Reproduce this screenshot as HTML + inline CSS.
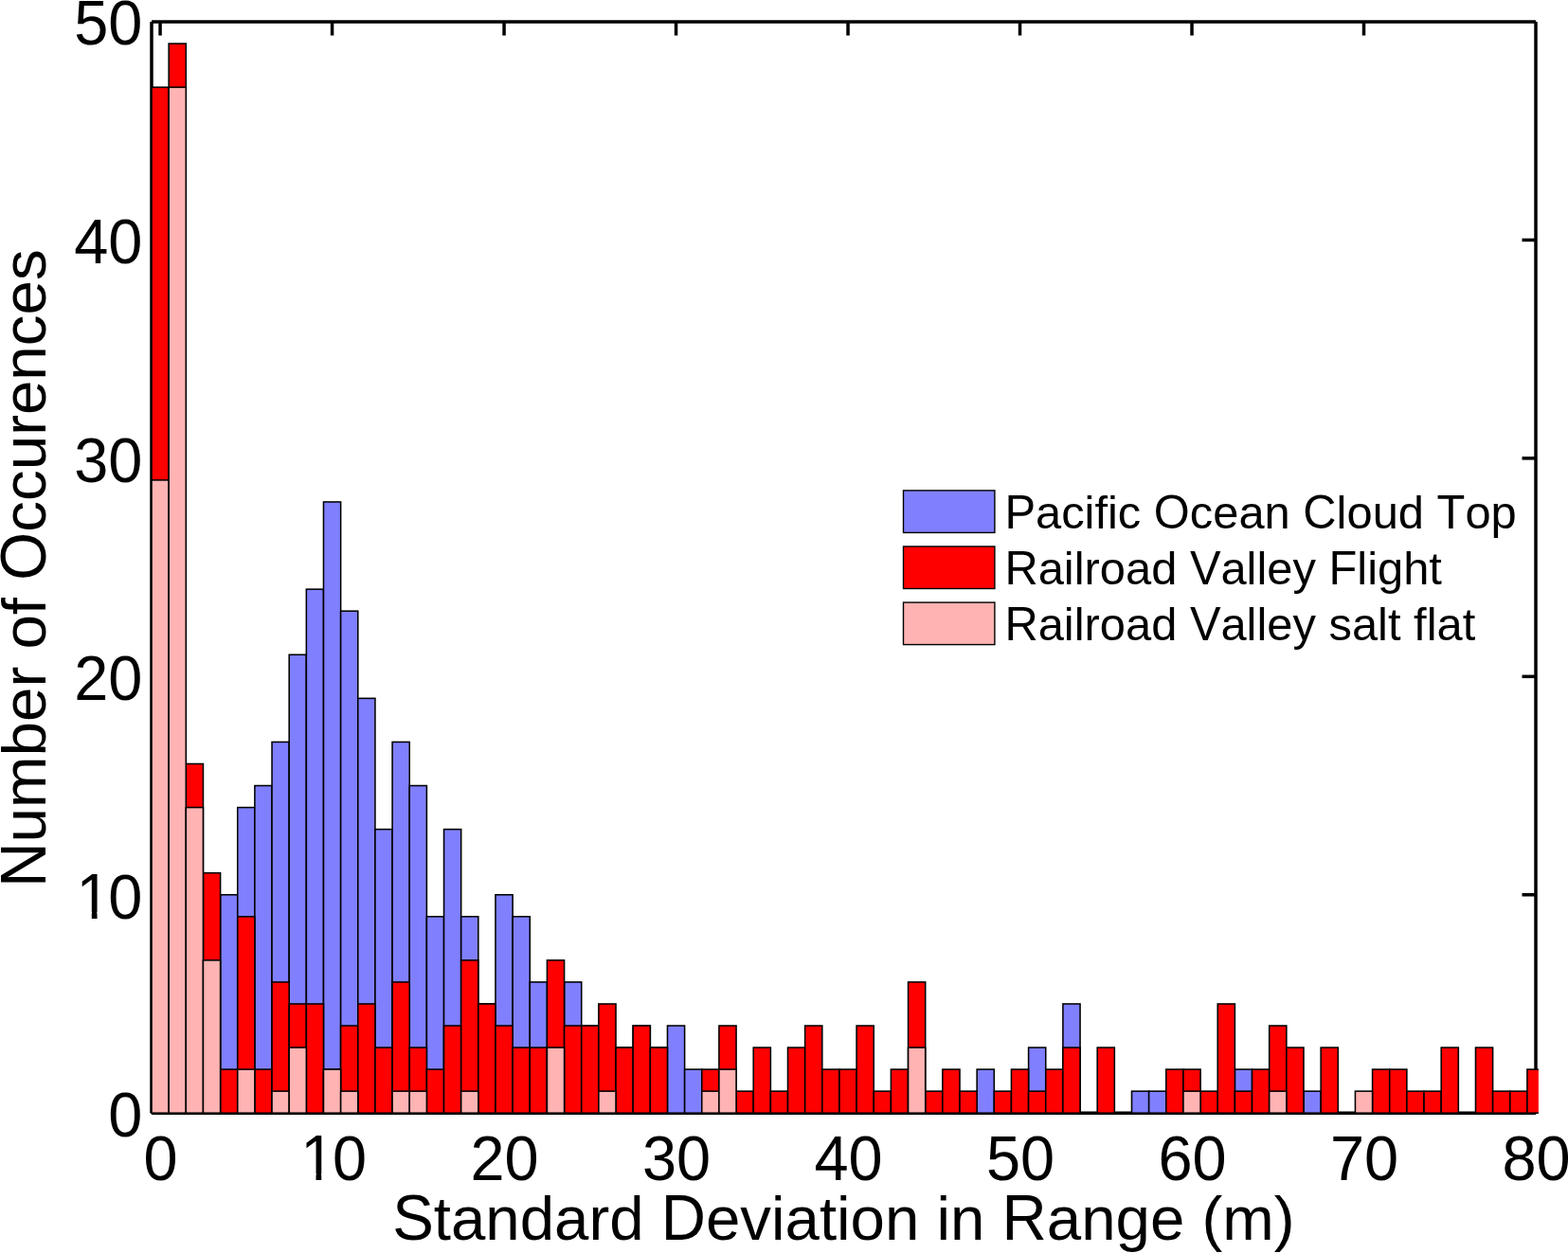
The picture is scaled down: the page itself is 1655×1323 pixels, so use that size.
<!DOCTYPE html>
<html lang="en"><head><meta charset="utf-8"><title>Number of Occurences vs Standard Deviation in Range (m)</title>
<style>html,body{margin:0;padding:0;background:#fff;overflow:hidden}svg{display:block}text{font-kerning:none;font-family:"Liberation Sans",Arial,Helvetica,sans-serif;fill:#000;white-space:pre}</style>
</head><body>
<svg width="1655" height="1323" viewBox="0 0 1655 1323">
<rect x="0" y="0" width="1655" height="1323" fill="#fff"/>
<g stroke="#000" stroke-width="3.5" fill="none" stroke-linecap="butt">
<line x1="160.0" y1="23.0" x2="1621.0" y2="23.0"/>
<line x1="160.0" y1="1175.3" x2="1621.0" y2="1175.3"/>
<line x1="160.0" y1="23.0" x2="160.0" y2="1175.3"/>
<line x1="1621.0" y1="23.0" x2="1621.0" y2="1175.3"/>
<line x1="169.07" y1="23.0" x2="169.07" y2="37.5"/>
<line x1="169.07" y1="1175.3" x2="169.07" y2="1160.8"/>
<line x1="350.57" y1="23.0" x2="350.57" y2="37.5"/>
<line x1="350.57" y1="1175.3" x2="350.57" y2="1160.8"/>
<line x1="532.06" y1="23.0" x2="532.06" y2="37.5"/>
<line x1="532.06" y1="1175.3" x2="532.06" y2="1160.8"/>
<line x1="713.55" y1="23.0" x2="713.55" y2="37.5"/>
<line x1="713.55" y1="1175.3" x2="713.55" y2="1160.8"/>
<line x1="895.04" y1="23.0" x2="895.04" y2="37.5"/>
<line x1="895.04" y1="1175.3" x2="895.04" y2="1160.8"/>
<line x1="1076.53" y1="23.0" x2="1076.53" y2="37.5"/>
<line x1="1076.53" y1="1175.3" x2="1076.53" y2="1160.8"/>
<line x1="1258.02" y1="23.0" x2="1258.02" y2="37.5"/>
<line x1="1258.02" y1="1175.3" x2="1258.02" y2="1160.8"/>
<line x1="1439.51" y1="23.0" x2="1439.51" y2="37.5"/>
<line x1="1439.51" y1="1175.3" x2="1439.51" y2="1160.8"/>
<line x1="160.0" y1="944.76" x2="174.5" y2="944.76"/>
<line x1="1621.0" y1="944.76" x2="1606.5" y2="944.76"/>
<line x1="160.0" y1="714.32" x2="174.5" y2="714.32"/>
<line x1="1621.0" y1="714.32" x2="1606.5" y2="714.32"/>
<line x1="160.0" y1="483.88" x2="174.5" y2="483.88"/>
<line x1="1621.0" y1="483.88" x2="1606.5" y2="483.88"/>
<line x1="160.0" y1="253.44" x2="174.5" y2="253.44"/>
<line x1="1621.0" y1="253.44" x2="1606.5" y2="253.44"/>
</g>
<defs><clipPath id="c"><rect x="158.5" y="21.0" width="1465.4" height="1156.3"/></clipPath></defs>
<g clip-path="url(#c)" stroke="#000" stroke-width="1.55" stroke-linejoin="miter">
<g fill="#8080ff">
<rect x="160.00" y="1175.20" width="18.15" height="0.00"/>
<rect x="178.15" y="1175.20" width="18.15" height="0.00"/>
<rect x="196.30" y="1175.20" width="18.15" height="0.00"/>
<rect x="214.45" y="1175.20" width="18.15" height="0.00"/>
<rect x="232.60" y="944.76" width="18.15" height="230.44"/>
<rect x="250.75" y="852.58" width="18.15" height="322.62"/>
<rect x="268.89" y="829.54" width="18.15" height="345.66"/>
<rect x="287.04" y="783.45" width="18.15" height="391.75"/>
<rect x="305.19" y="691.28" width="18.15" height="483.92"/>
<rect x="323.34" y="622.14" width="18.15" height="553.06"/>
<rect x="341.49" y="529.97" width="18.15" height="645.23"/>
<rect x="359.64" y="645.19" width="18.15" height="530.01"/>
<rect x="377.79" y="737.36" width="18.15" height="437.84"/>
<rect x="395.94" y="875.63" width="18.15" height="299.57"/>
<rect x="414.09" y="783.45" width="18.15" height="391.75"/>
<rect x="432.24" y="829.54" width="18.15" height="345.66"/>
<rect x="450.39" y="967.80" width="18.15" height="207.40"/>
<rect x="468.53" y="875.63" width="18.15" height="299.57"/>
<rect x="486.68" y="967.80" width="18.15" height="207.40"/>
<rect x="504.83" y="1059.98" width="18.15" height="115.22"/>
<rect x="522.98" y="944.76" width="18.15" height="230.44"/>
<rect x="541.13" y="967.80" width="18.15" height="207.40"/>
<rect x="559.28" y="1036.94" width="18.15" height="138.26"/>
<rect x="577.43" y="1106.07" width="18.15" height="69.13"/>
<rect x="595.58" y="1036.94" width="18.15" height="138.26"/>
<rect x="613.73" y="1083.02" width="18.15" height="92.18"/>
<rect x="631.88" y="1152.16" width="18.15" height="23.04"/>
<rect x="650.02" y="1106.07" width="18.15" height="69.13"/>
<rect x="668.17" y="1083.02" width="18.15" height="92.18"/>
<rect x="686.32" y="1106.07" width="18.15" height="69.13"/>
<rect x="704.47" y="1083.02" width="18.15" height="92.18"/>
<rect x="722.62" y="1129.11" width="18.15" height="46.09"/>
<rect x="740.77" y="1175.20" width="18.15" height="0.00"/>
<rect x="758.92" y="1175.20" width="18.15" height="0.00"/>
<rect x="777.07" y="1175.20" width="18.15" height="0.00"/>
<rect x="795.22" y="1175.20" width="18.15" height="0.00"/>
<rect x="813.37" y="1175.20" width="18.15" height="0.00"/>
<rect x="831.52" y="1175.20" width="18.15" height="0.00"/>
<rect x="849.66" y="1175.20" width="18.15" height="0.00"/>
<rect x="867.81" y="1175.20" width="18.15" height="0.00"/>
<rect x="885.96" y="1175.20" width="18.15" height="0.00"/>
<rect x="904.11" y="1175.20" width="18.15" height="0.00"/>
<rect x="922.26" y="1175.20" width="18.15" height="0.00"/>
<rect x="940.41" y="1175.20" width="18.15" height="0.00"/>
<rect x="958.56" y="1175.20" width="18.15" height="0.00"/>
<rect x="976.71" y="1175.20" width="18.15" height="0.00"/>
<rect x="994.86" y="1175.20" width="18.15" height="0.00"/>
<rect x="1013.01" y="1175.20" width="18.15" height="0.00"/>
<rect x="1031.16" y="1129.11" width="18.15" height="46.09"/>
<rect x="1049.30" y="1175.20" width="18.15" height="0.00"/>
<rect x="1067.45" y="1175.20" width="18.15" height="0.00"/>
<rect x="1085.60" y="1106.07" width="18.15" height="69.13"/>
<rect x="1103.75" y="1175.20" width="18.15" height="0.00"/>
<rect x="1121.90" y="1059.98" width="18.15" height="115.22"/>
<rect x="1140.05" y="1175.20" width="18.15" height="0.00"/>
<rect x="1158.20" y="1175.20" width="18.15" height="0.00"/>
<rect x="1176.35" y="1175.20" width="18.15" height="0.00"/>
<rect x="1194.50" y="1152.16" width="18.15" height="23.04"/>
<rect x="1212.65" y="1152.16" width="18.15" height="23.04"/>
<rect x="1230.80" y="1175.20" width="18.15" height="0.00"/>
<rect x="1248.94" y="1175.20" width="18.15" height="0.00"/>
<rect x="1267.09" y="1175.20" width="18.15" height="0.00"/>
<rect x="1285.24" y="1175.20" width="18.15" height="0.00"/>
<rect x="1303.39" y="1129.11" width="18.15" height="46.09"/>
<rect x="1321.54" y="1175.20" width="18.15" height="0.00"/>
<rect x="1339.69" y="1175.20" width="18.15" height="0.00"/>
<rect x="1357.84" y="1175.20" width="18.15" height="0.00"/>
<rect x="1375.99" y="1152.16" width="18.15" height="23.04"/>
<rect x="1394.14" y="1175.20" width="18.15" height="0.00"/>
<rect x="1412.29" y="1175.20" width="18.15" height="0.00"/>
<rect x="1430.43" y="1175.20" width="18.15" height="0.00"/>
<rect x="1448.58" y="1175.20" width="18.15" height="0.00"/>
<rect x="1466.73" y="1175.20" width="18.15" height="0.00"/>
<rect x="1484.88" y="1175.20" width="18.15" height="0.00"/>
<rect x="1503.03" y="1175.20" width="18.15" height="0.00"/>
<rect x="1521.18" y="1175.20" width="18.15" height="0.00"/>
<rect x="1539.33" y="1175.20" width="18.15" height="0.00"/>
<rect x="1557.48" y="1175.20" width="18.15" height="0.00"/>
<rect x="1575.63" y="1175.20" width="18.15" height="0.00"/>
<rect x="1593.78" y="1175.20" width="18.15" height="0.00"/>
<rect x="1611.93" y="1175.20" width="18.15" height="0.00"/>
</g>
<g fill="#ff0000">
<rect x="160.00" y="92.13" width="18.15" height="1083.07"/>
<rect x="178.15" y="46.04" width="18.15" height="1129.16"/>
<rect x="196.30" y="806.50" width="18.15" height="368.70"/>
<rect x="214.45" y="921.72" width="18.15" height="253.48"/>
<rect x="232.60" y="1129.11" width="18.15" height="46.09"/>
<rect x="250.75" y="967.80" width="18.15" height="207.40"/>
<rect x="268.89" y="1129.11" width="18.15" height="46.09"/>
<rect x="287.04" y="1036.94" width="18.15" height="138.26"/>
<rect x="305.19" y="1059.98" width="18.15" height="115.22"/>
<rect x="323.34" y="1059.98" width="18.15" height="115.22"/>
<rect x="341.49" y="1129.11" width="18.15" height="46.09"/>
<rect x="359.64" y="1083.02" width="18.15" height="92.18"/>
<rect x="377.79" y="1059.98" width="18.15" height="115.22"/>
<rect x="395.94" y="1106.07" width="18.15" height="69.13"/>
<rect x="414.09" y="1036.94" width="18.15" height="138.26"/>
<rect x="432.24" y="1106.07" width="18.15" height="69.13"/>
<rect x="450.39" y="1129.11" width="18.15" height="46.09"/>
<rect x="468.53" y="1083.02" width="18.15" height="92.18"/>
<rect x="486.68" y="1013.89" width="18.15" height="161.31"/>
<rect x="504.83" y="1059.98" width="18.15" height="115.22"/>
<rect x="522.98" y="1083.02" width="18.15" height="92.18"/>
<rect x="541.13" y="1106.07" width="18.15" height="69.13"/>
<rect x="559.28" y="1106.07" width="18.15" height="69.13"/>
<rect x="577.43" y="1013.89" width="18.15" height="161.31"/>
<rect x="595.58" y="1083.02" width="18.15" height="92.18"/>
<rect x="613.73" y="1083.02" width="18.15" height="92.18"/>
<rect x="631.88" y="1059.98" width="18.15" height="115.22"/>
<rect x="650.02" y="1106.07" width="18.15" height="69.13"/>
<rect x="668.17" y="1083.02" width="18.15" height="92.18"/>
<rect x="686.32" y="1106.07" width="18.15" height="69.13"/>
<rect x="704.47" y="1175.20" width="18.15" height="0.00"/>
<rect x="722.62" y="1175.20" width="18.15" height="0.00"/>
<rect x="740.77" y="1129.11" width="18.15" height="46.09"/>
<rect x="758.92" y="1083.02" width="18.15" height="92.18"/>
<rect x="777.07" y="1152.16" width="18.15" height="23.04"/>
<rect x="795.22" y="1106.07" width="18.15" height="69.13"/>
<rect x="813.37" y="1152.16" width="18.15" height="23.04"/>
<rect x="831.52" y="1106.07" width="18.15" height="69.13"/>
<rect x="849.66" y="1083.02" width="18.15" height="92.18"/>
<rect x="867.81" y="1129.11" width="18.15" height="46.09"/>
<rect x="885.96" y="1129.11" width="18.15" height="46.09"/>
<rect x="904.11" y="1083.02" width="18.15" height="92.18"/>
<rect x="922.26" y="1152.16" width="18.15" height="23.04"/>
<rect x="940.41" y="1129.11" width="18.15" height="46.09"/>
<rect x="958.56" y="1036.94" width="18.15" height="138.26"/>
<rect x="976.71" y="1152.16" width="18.15" height="23.04"/>
<rect x="994.86" y="1129.11" width="18.15" height="46.09"/>
<rect x="1013.01" y="1152.16" width="18.15" height="23.04"/>
<rect x="1031.16" y="1175.20" width="18.15" height="0.00"/>
<rect x="1049.30" y="1152.16" width="18.15" height="23.04"/>
<rect x="1067.45" y="1129.11" width="18.15" height="46.09"/>
<rect x="1085.60" y="1152.16" width="18.15" height="23.04"/>
<rect x="1103.75" y="1129.11" width="18.15" height="46.09"/>
<rect x="1121.90" y="1106.07" width="18.15" height="69.13"/>
<rect x="1140.05" y="1175.20" width="18.15" height="0.00"/>
<rect x="1158.20" y="1106.07" width="18.15" height="69.13"/>
<rect x="1176.35" y="1175.20" width="18.15" height="0.00"/>
<rect x="1194.50" y="1175.20" width="18.15" height="0.00"/>
<rect x="1212.65" y="1175.20" width="18.15" height="0.00"/>
<rect x="1230.80" y="1129.11" width="18.15" height="46.09"/>
<rect x="1248.94" y="1129.11" width="18.15" height="46.09"/>
<rect x="1267.09" y="1152.16" width="18.15" height="23.04"/>
<rect x="1285.24" y="1059.98" width="18.15" height="115.22"/>
<rect x="1303.39" y="1152.16" width="18.15" height="23.04"/>
<rect x="1321.54" y="1129.11" width="18.15" height="46.09"/>
<rect x="1339.69" y="1083.02" width="18.15" height="92.18"/>
<rect x="1357.84" y="1106.07" width="18.15" height="69.13"/>
<rect x="1375.99" y="1175.20" width="18.15" height="0.00"/>
<rect x="1394.14" y="1106.07" width="18.15" height="69.13"/>
<rect x="1412.29" y="1175.20" width="18.15" height="0.00"/>
<rect x="1430.43" y="1175.20" width="18.15" height="0.00"/>
<rect x="1448.58" y="1129.11" width="18.15" height="46.09"/>
<rect x="1466.73" y="1129.11" width="18.15" height="46.09"/>
<rect x="1484.88" y="1152.16" width="18.15" height="23.04"/>
<rect x="1503.03" y="1152.16" width="18.15" height="23.04"/>
<rect x="1521.18" y="1106.07" width="18.15" height="69.13"/>
<rect x="1539.33" y="1175.20" width="18.15" height="0.00"/>
<rect x="1557.48" y="1106.07" width="18.15" height="69.13"/>
<rect x="1575.63" y="1152.16" width="18.15" height="23.04"/>
<rect x="1593.78" y="1152.16" width="18.15" height="23.04"/>
<rect x="1611.93" y="1129.11" width="18.15" height="46.09"/>
</g>
<g fill="#ffb3b3">
<rect x="160.00" y="506.92" width="18.15" height="668.28"/>
<rect x="178.15" y="92.13" width="18.15" height="1083.07"/>
<rect x="196.30" y="852.58" width="18.15" height="322.62"/>
<rect x="214.45" y="1013.89" width="18.15" height="161.31"/>
<rect x="232.60" y="1175.20" width="18.15" height="0.00"/>
<rect x="250.75" y="1129.11" width="18.15" height="46.09"/>
<rect x="268.89" y="1175.20" width="18.15" height="0.00"/>
<rect x="287.04" y="1152.16" width="18.15" height="23.04"/>
<rect x="305.19" y="1106.07" width="18.15" height="69.13"/>
<rect x="323.34" y="1175.20" width="18.15" height="0.00"/>
<rect x="341.49" y="1129.11" width="18.15" height="46.09"/>
<rect x="359.64" y="1152.16" width="18.15" height="23.04"/>
<rect x="377.79" y="1175.20" width="18.15" height="0.00"/>
<rect x="395.94" y="1175.20" width="18.15" height="0.00"/>
<rect x="414.09" y="1152.16" width="18.15" height="23.04"/>
<rect x="432.24" y="1152.16" width="18.15" height="23.04"/>
<rect x="450.39" y="1175.20" width="18.15" height="0.00"/>
<rect x="468.53" y="1175.20" width="18.15" height="0.00"/>
<rect x="486.68" y="1152.16" width="18.15" height="23.04"/>
<rect x="504.83" y="1175.20" width="18.15" height="0.00"/>
<rect x="522.98" y="1175.20" width="18.15" height="0.00"/>
<rect x="541.13" y="1175.20" width="18.15" height="0.00"/>
<rect x="559.28" y="1175.20" width="18.15" height="0.00"/>
<rect x="577.43" y="1106.07" width="18.15" height="69.13"/>
<rect x="595.58" y="1175.20" width="18.15" height="0.00"/>
<rect x="613.73" y="1175.20" width="18.15" height="0.00"/>
<rect x="631.88" y="1152.16" width="18.15" height="23.04"/>
<rect x="650.02" y="1175.20" width="18.15" height="0.00"/>
<rect x="668.17" y="1175.20" width="18.15" height="0.00"/>
<rect x="686.32" y="1175.20" width="18.15" height="0.00"/>
<rect x="704.47" y="1175.20" width="18.15" height="0.00"/>
<rect x="722.62" y="1175.20" width="18.15" height="0.00"/>
<rect x="740.77" y="1152.16" width="18.15" height="23.04"/>
<rect x="758.92" y="1129.11" width="18.15" height="46.09"/>
<rect x="777.07" y="1175.20" width="18.15" height="0.00"/>
<rect x="795.22" y="1175.20" width="18.15" height="0.00"/>
<rect x="813.37" y="1175.20" width="18.15" height="0.00"/>
<rect x="831.52" y="1175.20" width="18.15" height="0.00"/>
<rect x="849.66" y="1175.20" width="18.15" height="0.00"/>
<rect x="867.81" y="1175.20" width="18.15" height="0.00"/>
<rect x="885.96" y="1175.20" width="18.15" height="0.00"/>
<rect x="904.11" y="1175.20" width="18.15" height="0.00"/>
<rect x="922.26" y="1175.20" width="18.15" height="0.00"/>
<rect x="940.41" y="1175.20" width="18.15" height="0.00"/>
<rect x="958.56" y="1106.07" width="18.15" height="69.13"/>
<rect x="976.71" y="1175.20" width="18.15" height="0.00"/>
<rect x="994.86" y="1175.20" width="18.15" height="0.00"/>
<rect x="1013.01" y="1175.20" width="18.15" height="0.00"/>
<rect x="1031.16" y="1175.20" width="18.15" height="0.00"/>
<rect x="1049.30" y="1175.20" width="18.15" height="0.00"/>
<rect x="1067.45" y="1175.20" width="18.15" height="0.00"/>
<rect x="1085.60" y="1175.20" width="18.15" height="0.00"/>
<rect x="1103.75" y="1175.20" width="18.15" height="0.00"/>
<rect x="1121.90" y="1175.20" width="18.15" height="0.00"/>
<rect x="1140.05" y="1175.20" width="18.15" height="0.00"/>
<rect x="1158.20" y="1175.20" width="18.15" height="0.00"/>
<rect x="1176.35" y="1175.20" width="18.15" height="0.00"/>
<rect x="1194.50" y="1175.20" width="18.15" height="0.00"/>
<rect x="1212.65" y="1175.20" width="18.15" height="0.00"/>
<rect x="1230.80" y="1175.20" width="18.15" height="0.00"/>
<rect x="1248.94" y="1152.16" width="18.15" height="23.04"/>
<rect x="1267.09" y="1175.20" width="18.15" height="0.00"/>
<rect x="1285.24" y="1175.20" width="18.15" height="0.00"/>
<rect x="1303.39" y="1175.20" width="18.15" height="0.00"/>
<rect x="1321.54" y="1175.20" width="18.15" height="0.00"/>
<rect x="1339.69" y="1152.16" width="18.15" height="23.04"/>
<rect x="1357.84" y="1175.20" width="18.15" height="0.00"/>
<rect x="1375.99" y="1175.20" width="18.15" height="0.00"/>
<rect x="1394.14" y="1175.20" width="18.15" height="0.00"/>
<rect x="1412.29" y="1175.20" width="18.15" height="0.00"/>
<rect x="1430.43" y="1152.16" width="18.15" height="23.04"/>
<rect x="1448.58" y="1175.20" width="18.15" height="0.00"/>
<rect x="1466.73" y="1175.20" width="18.15" height="0.00"/>
<rect x="1484.88" y="1175.20" width="18.15" height="0.00"/>
<rect x="1503.03" y="1175.20" width="18.15" height="0.00"/>
<rect x="1521.18" y="1175.20" width="18.15" height="0.00"/>
<rect x="1539.33" y="1175.20" width="18.15" height="0.00"/>
<rect x="1557.48" y="1175.20" width="18.15" height="0.00"/>
<rect x="1575.63" y="1175.20" width="18.15" height="0.00"/>
<rect x="1593.78" y="1175.20" width="18.15" height="0.00"/>
<rect x="1611.93" y="1175.20" width="18.15" height="0.00"/>
</g>
</g>
<g font-size="65.5">
<text transform="translate(151.54,1246) scale(0.99,1.028)">0</text>
<text transform="translate(315.00,1246) scale(0.99,1.028)"><tspan dx="2.22" font-size="67.47" textLength="36.43" lengthAdjust="spacingAndGlyphs">1</tspan><tspan dx="-2.22">0</tspan></text>
<text transform="translate(496.49,1246) scale(0.99,1.028)">20</text>
<text transform="translate(677.98,1246) scale(0.99,1.028)">30</text>
<text transform="translate(859.47,1246) scale(0.99,1.028)">40</text>
<text transform="translate(1040.96,1246) scale(0.99,1.028)">50</text>
<text transform="translate(1222.45,1246) scale(0.99,1.028)">60</text>
<text transform="translate(1403.95,1246) scale(0.99,1.028)">70</text>
<text transform="translate(1585.44,1246) scale(0.99,1.028)">80</text>
<text transform="translate(114.34,1200) scale(0.99,1.028)">0</text>
<text transform="translate(78.27,970) scale(0.99,1.028)"><tspan dx="2.22" font-size="67.47" textLength="36.43" lengthAdjust="spacingAndGlyphs">1</tspan><tspan dx="-2.22">0</tspan></text>
<text transform="translate(78.27,739) scale(0.99,1.028)">20</text>
<text transform="translate(78.27,509) scale(0.99,1.028)">30</text>
<text transform="translate(78.27,278) scale(0.99,1.028)">40</text>
<text transform="translate(78.27,47) scale(0.99,1.028)">50</text>
</g>
<g fill="#fff">
<rect x="320.64" y="1239.00" width="12.87" height="8.50"/>
<rect x="339.24" y="1239.00" width="12.36" height="8.50"/>
<rect x="83.91" y="963.00" width="12.87" height="8.50"/>
<rect x="102.51" y="963.00" width="12.36" height="8.50"/>
</g>
<text x="414.14" y="1309" font-size="65.4"><tspan font-size="68.15" textLength="43.62" lengthAdjust="spacingAndGlyphs">S</tspan>tandard <tspan font-size="68.15" textLength="47.23" lengthAdjust="spacingAndGlyphs">D</tspan>eviation in <tspan font-size="68.15" textLength="47.23" lengthAdjust="spacingAndGlyphs">R</tspan>ange (m)</text>
<text transform="translate(48.2,600) rotate(-90)" x="-336.73" y="0" font-size="65.5"><tspan font-size="68.25" textLength="47.30" lengthAdjust="spacingAndGlyphs">N</tspan>umber of <tspan font-size="68.25" textLength="50.95" lengthAdjust="spacingAndGlyphs">O</tspan>ccurences</text>
<g stroke="#000" stroke-width="1.4">
<rect x="953.5" y="517.90" width="96.4" height="44.5" fill="#8080ff"/>
<rect x="953.5" y="577.00" width="96.4" height="44.5" fill="#ff0000"/>
<rect x="953.5" y="636.10" width="96.4" height="44.5" fill="#ffb3b3"/>
</g>
<g font-size="48.85">
<text x="1060.4" y="558"><tspan font-size="50.00" textLength="32.58" lengthAdjust="spacingAndGlyphs">P</tspan>acific <tspan font-size="50.00" textLength="38.00" lengthAdjust="spacingAndGlyphs">O</tspan>cean <tspan font-size="50.00" textLength="35.28" lengthAdjust="spacingAndGlyphs">C</tspan>loud <tspan font-size="50.00" textLength="29.84" lengthAdjust="spacingAndGlyphs">T</tspan>op</text>
<text x="1060.4" y="617"><tspan font-size="50.00" textLength="35.28" lengthAdjust="spacingAndGlyphs">R</tspan>ailroad <tspan font-size="50.00" textLength="32.58" lengthAdjust="spacingAndGlyphs">V</tspan>alley <tspan font-size="50.00" textLength="29.84" lengthAdjust="spacingAndGlyphs">F</tspan>light</text>
<text x="1060.4" y="676"><tspan font-size="50.00" textLength="35.28" lengthAdjust="spacingAndGlyphs">R</tspan>ailroad <tspan font-size="50.00" textLength="32.58" lengthAdjust="spacingAndGlyphs">V</tspan>alley salt flat</text>
</g>
</svg></body></html>
